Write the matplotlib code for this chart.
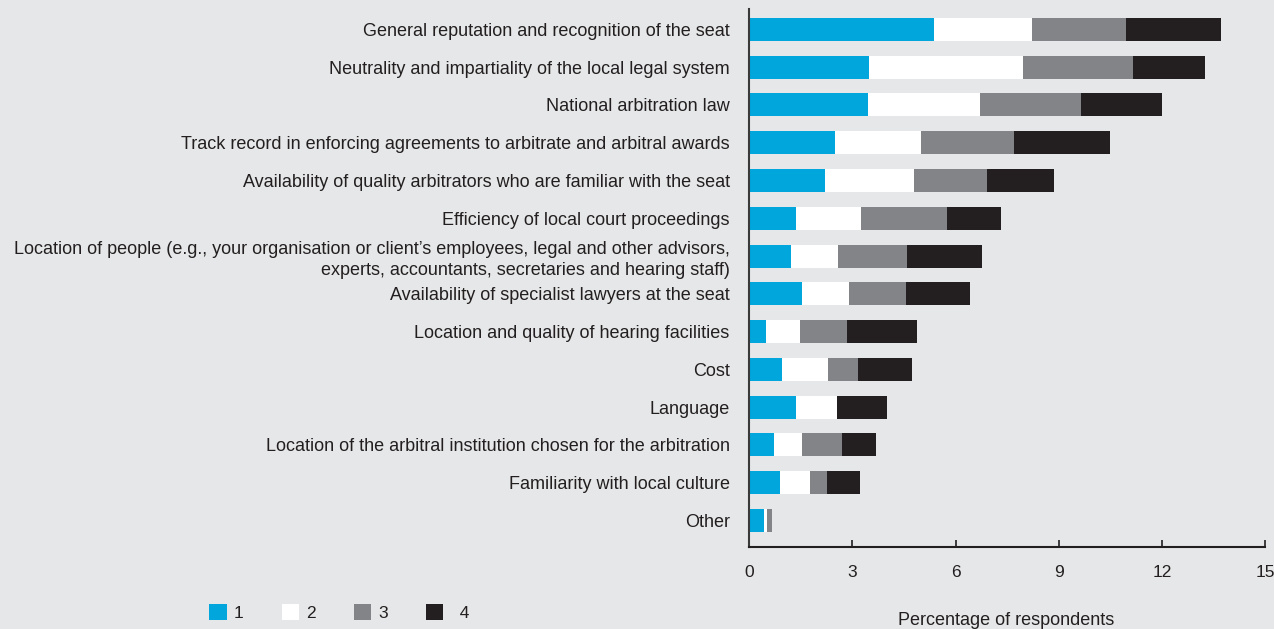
import numpy as np
import matplotlib.pyplot as plt
from matplotlib.patches import Patch

# factors, top to bottom
factors = [
    "General reputation and recognition of the seat",
    "Neutrality and impartiality of the local legal system",
    "National arbitration law",
    "Track record in enforcing agreements to arbitrate and arbitral awards",
    "Availability of quality arbitrators who are familiar with the seat",
    "Efficiency of local court proceedings",
    "Location of people (e.g., your organisation or client\u2019s employees, legal and other advisors,\nexperts, accountants, secretaries and hearing staff)",
    "Availability of specialist lawyers at the seat",
    "Location and quality of hearing facilities",
    "Cost",
    "Language",
    "Location of the arbitral institution chosen for the arbitration",
    "Familiarity with local culture",
    "Other",
]

# percentage of respondents ranking the factor 1st, 2nd, 3rd, 4th
rank1 = [5.38, 3.49, 3.46, 2.50, 2.21, 1.37, 1.22, 1.54, 0.49, 0.96, 1.37, 0.73, 0.90, 0.44]
rank2 = [2.85, 4.48, 3.26, 2.50, 2.59, 1.89, 1.37, 1.37, 0.99, 1.34, 1.19, 0.81, 0.87, 0.08]
rank3 = [2.74, 3.20, 2.94, 2.71, 2.12, 2.50, 2.01, 1.66, 1.37, 0.87, 0.00, 1.17, 0.50, 0.15]
rank4 = [2.76, 2.07, 2.33, 2.79, 1.95, 1.57, 2.18, 1.86, 2.04, 1.57, 1.46, 0.99, 0.96, 0.00]

ranks = ["1", "2", "3", "  4"]
colors = ["#00a6dc", "#ffffff", "#838487", "#231f20"]
bg = "#e6e7e8"
txt = "#231f20"

plt.rcParams['font.family'] = ['Liberation Sans', 'DejaVu Sans']

fig = plt.figure(figsize=(12.74, 6.29), dpi=100, facecolor=bg)
ax = fig.add_axes([0.588, 0.1304, 0.405, 0.8553])
ax.set_facecolor(bg)

y = np.arange(len(factors))
left = np.zeros(len(factors))
for vals, c in zip([rank1, rank2, rank3, rank4], colors):
    vals = np.array(vals)
    ax.barh(y, vals, left=left, height=0.61, color=c, linewidth=0)
    left += vals

ax.set_xlim(0, 15)
ax.set_ylim(13.70, -0.54)
ax.set_xticks([0, 3, 6, 9, 12, 15])
ax.set_yticks(y)
ax.set_yticklabels(factors, fontsize=13, color=txt, linespacing=1.3)
ax.tick_params(axis='y', length=0, pad=14)
ax.tick_params(axis='x', direction='in', length=5, width=1.2, colors=txt,
               labelsize=12.5, pad=13)

for s in ['top', 'right']:
    ax.spines[s].set_visible(False)
ax.spines['left'].set_color('#3a3a3a')
ax.spines['left'].set_linewidth(1.5)
ax.spines['bottom'].set_color(txt)
ax.spines['bottom'].set_linewidth(1.5)

fig.text(0.79, 0.014, "Percentage of respondents", ha='center', va='center',
         fontsize=13, color=txt)

handles = [Patch(facecolor=c, edgecolor='none') for c in colors]
fig.legend(handles, ranks, loc='lower left', bbox_to_anchor=(0.152, -0.012),
           ncol=4, frameon=False, fontsize=12.5, handlelength=1.0,
           handleheight=1.0, handletextpad=0.4, columnspacing=2.2,
           labelcolor=txt)

fig.savefig("out.png", dpi=100, facecolor=bg)
